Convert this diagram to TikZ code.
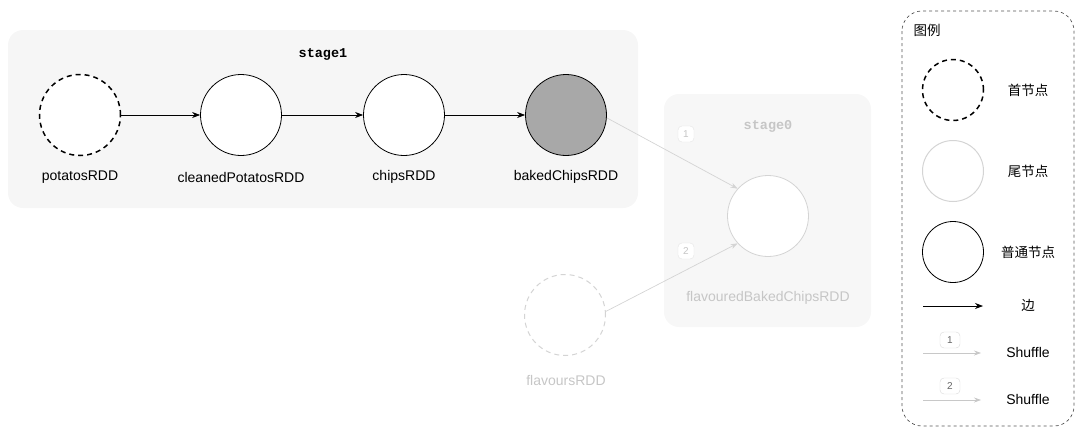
\documentclass[tikz,border=0pt]{standalone}
\usepackage{fontspec}
\setmainfont{Liberation Sans}
\setmonofont{Liberation Mono}
\newfontfamily\cjk{Noto Sans CJK SC}
\usetikzlibrary{arrows.meta}
\definecolor{stagefill}{HTML}{F6F6F6}
\definecolor{stagezfill}{HTML}{F7F7F7}
\definecolor{faintstroke}{HTML}{D4D4D4}
\definecolor{fainttext}{HTML}{C6C6C6}
\definecolor{bakedfill}{HTML}{A8A8A8}
\definecolor{legendborder}{HTML}{555555}
\definecolor{shufgray}{HTML}{C8C8C8}
\begin{document}
\begin{tikzpicture}[x=1pt,y=-1pt,
  rdd/.style={circle, draw=black, line width=0.8pt, minimum size=81pt, inner sep=0pt, fill=white},
  headrdd/.style={rdd, dash pattern=on 5pt off 4pt, line width=1.5pt},
  legrdd/.style={minimum size=61pt},
  lbl/.style={font=\fontsize{14}{16}\selectfont, inner sep=0pt},
  cjklbl/.style={font=\cjk\fontsize{13.5}{15}\selectfont, inner sep=0pt},
  stagebox/.style={fill=stagefill, draw=none, rounded corners=15pt},
  stagelbl/.style={font=\ttfamily\bfseries\fontsize{13.5}{15}\selectfont, inner sep=0pt},
  edge/.style={-{Stealth[length=8pt,width=6pt]}, line width=0.7pt, draw=black},
  shuf/.style={-{Stealth[length=7pt,width=5pt]}, line width=0.7pt, draw=faintstroke},
  legshuf/.style={-{Stealth[length=7pt,width=5pt]}, line width=0.7pt, draw=shufgray},
  numbox/.style={draw=#1, rounded corners=4pt, font=\fontsize{10}{12}\selectfont, minimum width=20pt, minimum height=16pt, inner sep=1pt, fill=white},
]
\useasboundingbox (0,0) rectangle (1080,432);

% stage1
\path[stagebox] (8,30) rectangle (638,208);
\node[stagelbl] (s1) at (323,54) {stage1};
\node[headrdd] (pot) at (80,115) {};
\node[rdd] (clean) at (241,115) {};
\node[rdd] (chips) at (404,115) {};
\node[rdd, fill=bakedfill] (baked) at (566,115) {};
\node[lbl] (potL) at (80,177) {potatosRDD};
\node[lbl] (cleanL) at (241,177) {cleanedPotatosRDD};
\node[lbl] (chipsL) at (404,177) {chipsRDD};
\node[lbl] (bakedL) at (566,177) {bakedChipsRDD};
\draw[edge] (pot) -- (clean);
\draw[edge] (clean) -- (chips);
\draw[edge] (chips) -- (baked);

% stage0 (faded)
\path[stagebox, fill=stagezfill] (664,94) rectangle (871,327);
\node[stagelbl, text=fainttext] (s0) at (768,126) {stage0};
\node[rdd, draw=faintstroke] (flav) at (768,216) {};
\node[lbl, text=fainttext] (flavL) at (768,298) {flavouredBakedChipsRDD};
\node[headrdd, draw=faintstroke, line width=1pt] (flavours) at (565,315) {};
\node[lbl, text=fainttext] (flavoursL) at (566,380) {flavoursRDD};
\draw[shuf] (baked.-4) -- (flav.138);
\draw[shuf] (flavours.5) -- (flav.222);
\node[numbox=faintstroke!60, text=fainttext, minimum width=16pt] (n1) at (686,134) {1};
\node[numbox=faintstroke!60, text=fainttext, minimum width=16pt] (n2) at (686,251) {2};

% legend
\draw[legendborder, dashed, line width=0.7pt, rounded corners=20pt] (902,11) rectangle (1074,426);
\node[cjklbl] (legT) at (927,30) {图例};
\node[headrdd, legrdd] (lhead) at (953,90) {};
\node[cjklbl] (lheadL) at (1028,90) {首节点};
\node[rdd, legrdd, draw=faintstroke, line width=1pt] (ltail) at (953,171) {};
\node[cjklbl] (ltailL) at (1028,171) {尾节点};
\node[rdd, legrdd] (lnorm) at (953,252) {};
\node[cjklbl] (lnormL) at (1028,252) {普通节点};
\coordinate (ea) at (923,306);
\coordinate (eb) at (983,306);
\draw[edge] (ea) -- (eb);
\node[cjklbl] (ledgeL) at (1028,305) {边};
\coordinate (s1a) at (923,353);
\coordinate (s1b) at (981,353);
\draw[legshuf] (s1a) -- (s1b);
\node[numbox=shufgray!70, text=black!60] (ln1) at (950,340) {1};
\node[lbl] (ls1L) at (1028,352) {Shuffle};
\coordinate (s2a) at (923,400);
\coordinate (s2b) at (981,400);
\draw[legshuf] (s2a) -- (s2b);
\node[numbox=shufgray!70, text=black!60] (ln2) at (950,386) {2};
\node[lbl] (ls2L) at (1028,399) {Shuffle};
\end{tikzpicture}
\end{document}
